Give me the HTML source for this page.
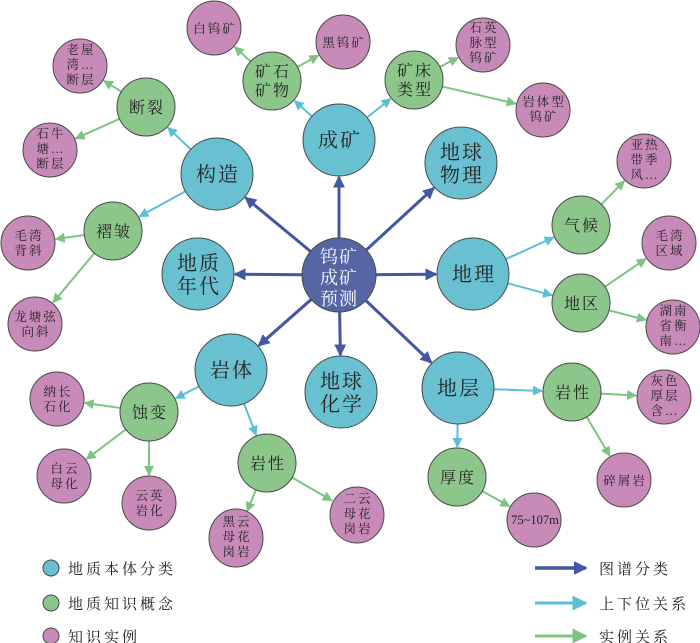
<!DOCTYPE html>
<html><head><meta charset="utf-8"><style>
html,body{margin:0;padding:0;background:#fff;}
svg{display:block;font-family:"Liberation Serif","Noto Serif CJK SC","Noto Sans CJK SC",serif;}
.b{fill:#68c0d0;stroke:#4a4a4a;stroke-width:1}
.c{fill:#5666a4;stroke:#4a4a4a;stroke-width:1}
.g{fill:#8dc68b;stroke:#4a4a4a;stroke-width:1}
.p{fill:#c88ab8;stroke:#4a4a4a;stroke-width:1}
text{text-anchor:middle;fill:#222;}
.tb{font-size:20px;letter-spacing:2px}
.tg{font-size:16px;letter-spacing:2px}
.tp{font-size:12.5px;letter-spacing:2px}
.tl{font-size:15px;letter-spacing:3px;text-anchor:start}
</style></head><body>
<svg id="s" width="700" height="643" viewBox="0 0 700 643" xmlns="http://www.w3.org/2000/svg">
<defs>
<marker id="mB" markerWidth="4" markerHeight="4" refX="3.5" refY="2" orient="auto" markerUnits="strokeWidth"><path d="M0,0 L4,2 L0,4 z" fill="#4457a3"/></marker>
<marker id="mC" markerWidth="5" markerHeight="5" refX="4.5" refY="2.5" orient="auto" markerUnits="strokeWidth"><path d="M0,0 L5,2.5 L0,5 z" fill="#5bbfd6"/></marker>
<marker id="mG" markerWidth="5" markerHeight="5" refX="4.5" refY="2.5" orient="auto" markerUnits="strokeWidth"><path d="M0,0 L5,2.5 L0,5 z" fill="#7cc47f"/></marker>
</defs>
<g id="lines"></g>

<!-- center -->
<circle class="c" cx="339" cy="275" r="37"/>
<text x="339" y="263" style="font-size:18px;fill:#fff;letter-spacing:1px"><tspan x="339" dy="0">钨矿</tspan><tspan x="339" dy="21">成矿</tspan><tspan x="339" dy="21">预测</tspan></text>

<!-- blue -->
<circle class="b" cx="217" cy="174" r="36"/><text class="tb" x="218" y="181">构造</text>
<circle class="b" cx="339" cy="140" r="36"/><text class="tb" x="340" y="147">成矿</text>
<circle class="b" cx="461" cy="163" r="36"/><text class="tb" x="462" y="159"><tspan x="462">地球</tspan><tspan x="462" dy="23">物理</tspan></text>
<circle class="b" cx="198" cy="274" r="36"/><text class="tb" x="199" y="270"><tspan x="199">地质</tspan><tspan x="199" dy="23">年代</tspan></text>
<circle class="b" cx="473" cy="274" r="36"/><text class="tb" x="474" y="281">地理</text>
<circle class="b" cx="231" cy="370" r="36"/><text class="tb" x="232" y="377">岩体</text>
<circle class="b" cx="341" cy="392" r="36"/><text class="tb" x="342" y="388"><tspan x="342">地球</tspan><tspan x="342" dy="23">化学</tspan></text>
<circle class="b" cx="458" cy="388" r="36"/><text class="tb" x="459" y="395">地层</text>

<!-- green -->
<circle class="g" cx="146" cy="107" r="29"/><text class="tg" x="147" y="113">断裂</text>
<circle class="g" cx="113" cy="231" r="29"/><text class="tg" x="114" y="237">褶皱</text>
<circle class="g" cx="272" cy="81" r="29"/><text class="tg" x="273" y="77"><tspan x="273">矿石</tspan><tspan x="273" dy="19">矿物</tspan></text>
<circle class="g" cx="414" cy="80" r="29"/><text class="tg" x="415" y="76"><tspan x="415">矿床</tspan><tspan x="415" dy="19">类型</tspan></text>
<circle class="g" cx="581" cy="225" r="29"/><text class="tg" x="582" y="231">气候</text>
<circle class="g" cx="581" cy="303" r="29"/><text class="tg" x="582" y="309">地区</text>
<circle class="g" cx="149" cy="412" r="29"/><text class="tg" x="150" y="418">蚀变</text>
<circle class="g" cx="267" cy="463" r="29"/><text class="tg" x="268" y="469">岩性</text>
<circle class="g" cx="572" cy="392" r="29"/><text class="tg" x="573" y="398">岩性</text>
<circle class="g" cx="457" cy="477" r="29"/><text class="tg" x="458" y="483">厚度</text>

<!-- purple -->
<circle class="p" cx="214" cy="28" r="27"/><text class="tp" x="215" y="33">白钨矿</text>
<circle class="p" cx="343" cy="42" r="27"/><text class="tp" x="344" y="47">黑钨矿</text>
<circle class="p" cx="483" cy="45" r="27"/><text class="tp" x="484" y="32"><tspan x="484">石英</tspan><tspan x="484" dy="15">脉型</tspan><tspan x="484" dy="15">钨矿</tspan></text>
<circle class="p" cx="543" cy="110" r="27"/><text class="tp" x="544" y="106"><tspan x="544">岩体型</tspan><tspan x="544" dy="15">钨矿</tspan></text>
<circle class="p" cx="80" cy="66" r="27"/><text class="tp" x="81" y="54"><tspan x="81">老屋</tspan><tspan x="81" dy="15">湾…</tspan><tspan x="81" dy="15">断层</tspan></text>
<circle class="p" cx="50" cy="150" r="27"/><text class="tp" x="51" y="138"><tspan x="51">石牛</tspan><tspan x="51" dy="15">塘…</tspan><tspan x="51" dy="15">断层</tspan></text>
<circle class="p" cx="28" cy="243" r="27"/><text class="tp" x="29" y="240"><tspan x="29">毛湾</tspan><tspan x="29" dy="15">背斜</tspan></text>
<circle class="p" cx="35" cy="324" r="27"/><text class="tp" x="36" y="321"><tspan x="36">龙塘弦</tspan><tspan x="36" dy="15">向斜</tspan></text>
<circle class="p" cx="644" cy="161" r="27"/><text class="tp" x="645" y="149"><tspan x="645">亚热</tspan><tspan x="645" dy="15">带季</tspan><tspan x="645" dy="15">风…</tspan></text>
<circle class="p" cx="669" cy="243" r="27"/><text class="tp" x="670" y="240"><tspan x="670">毛湾</tspan><tspan x="670" dy="15">区域</tspan></text>
<circle class="p" cx="673" cy="327" r="27"/><text class="tp" x="674" y="315"><tspan x="674">湖南</tspan><tspan x="674" dy="15">省衡</tspan><tspan x="674" dy="15">南…</tspan></text>
<circle class="p" cx="664" cy="397" r="27"/><text class="tp" x="665" y="385"><tspan x="665">灰色</tspan><tspan x="665" dy="15">厚层</tspan><tspan x="665" dy="15">含…</tspan></text>
<circle class="p" cx="624" cy="480" r="27"/><text class="tp" x="625" y="485">碎屑岩</text>
<circle class="p" cx="534" cy="520" r="27"/><text class="tp" x="535" y="524" style="letter-spacing:0">75~107m</text>
<circle class="p" cx="57" cy="399" r="27"/><text class="tp" x="58" y="396"><tspan x="58">纳长</tspan><tspan x="58" dy="15">石化</tspan></text>
<circle class="p" cx="64" cy="476" r="27"/><text class="tp" x="65" y="473"><tspan x="65">白云</tspan><tspan x="65" dy="15">母化</tspan></text>
<circle class="p" cx="149" cy="503" r="27"/><text class="tp" x="150" y="500"><tspan x="150">云英</tspan><tspan x="150" dy="15">岩化</tspan></text>
<ellipse class="p" cx="236" cy="538" rx="27" ry="29"/><text class="tp" x="237" y="526"><tspan x="237">黑云</tspan><tspan x="237" dy="15">母花</tspan><tspan x="237" dy="15">岗岩</tspan></text>
<ellipse class="p" cx="357" cy="515" rx="27" ry="28"/><text class="tp" x="358" y="503"><tspan x="358">二云</tspan><tspan x="358" dy="15">母花</tspan><tspan x="358" dy="15">岗岩</tspan></text>

<!-- legend -->
<circle class="b" cx="51" cy="568" r="8"/><text class="tl" x="68" y="574">地质本体分类</text>
<circle class="g" cx="51" cy="603" r="8"/><text class="tl" x="68" y="609">地质知识概念</text>
<circle class="p" cx="51" cy="636" r="8"/><text class="tl" x="68" y="642">知识实例</text>
<line x1="535" y1="568" x2="586" y2="568" stroke="#4457a3" stroke-width="3.5" marker-end="url(#mB)"/>
<text class="tl" x="599" y="574">图谱分类</text>
<line x1="535" y1="603" x2="586" y2="603" stroke="#5bbfd6" stroke-width="3" marker-end="url(#mC)"/>
<text class="tl" x="599" y="609">上下位关系</text>
<line x1="535" y1="636" x2="586" y2="636" stroke="#7cc47f" stroke-width="3" marker-end="url(#mG)"/>
<text class="tl" x="599" y="642">实例关系</text>
</svg>
<script>
var N={C:[339,275,37],GZ:[217,174,36],CK:[339,140,36],DQW:[461,163,36],DZ:[198,274,36],DL:[473,274,36],YT:[231,370,36],DQH:[341,392,36],DC:[458,388,36],
DLie:[146,107,29],ZZ:[113,231,29],KS:[272,81,29],KC:[414,80,29],QH:[581,225,29],DQ:[581,303,29],SB:[149,412,29],YXL:[267,463,29],YXR:[572,392,29],HD:[457,477,29],
BW:[214,28,27],HW:[343,42,27],SY:[483,45,27],YTX:[543,110,27],LW:[80,66,27],SN:[50,150,27],MB:[28,243,27],LT:[35,324,27],YR:[644,161,27],MQ:[669,243,27],HN:[673,327,27],HS:[664,397,27],SX:[624,480,27],M75:[534,520,27],NC:[57,399,27],BY:[64,476,27],YY:[149,503,27],HY:[236,538,28],EY:[357,515,28]};
var E=[["C","GZ",0],["C","CK",0],["C","DQW",0],["C","DZ",0],["C","DL",0],["C","YT",0],["C","DQH",0],["C","DC",0],
["GZ","DLie",1],["GZ","ZZ",1],["CK","KS",1],["CK","KC",1],["DL","QH",1],["DL","DQ",1],["YT","SB",1],["YT","YXL",1],["DC","YXR",1],["DC","HD",1],
["DLie","LW",2],["DLie","SN",2],["ZZ","MB",2],["ZZ","LT",2],["KS","BW",2],["KS","HW",2],["KC","SY",2],["KC","YTX",2],["QH","YR",2],["DQ","MQ",2],["DQ","HN",2],["SB","NC",2],["SB","BY",2],["SB","YY",2],["YXL","HY",2],["YXL","EY",2],["YXR","HS",2],["YXR","SX",2],["HD","M75",2]];
var col=["#4457a3","#5bbfd6","#7cc47f"],mk=["mB","mC","mG"],sw=[3,2,2];
var g=document.getElementById("lines"),ns="http://www.w3.org/2000/svg";
E.forEach(function(e){var a=N[e[0]],b=N[e[1]];var dx=b[0]-a[0],dy=b[1]-a[1],d=Math.sqrt(dx*dx+dy*dy),ux=dx/d,uy=dy/d;
var l=document.createElementNS(ns,"line");l.setAttribute("x1",a[0]+ux*a[2]);l.setAttribute("y1",a[1]+uy*a[2]);
l.setAttribute("x2",b[0]-ux*(b[2]+1));l.setAttribute("y2",b[1]-uy*(b[2]+1));l.setAttribute("stroke",col[e[2]]);l.setAttribute("stroke-width",sw[e[2]]);
l.setAttribute("marker-end","url(#"+mk[e[2]]+")");g.appendChild(l);});
</script>
</body></html>
